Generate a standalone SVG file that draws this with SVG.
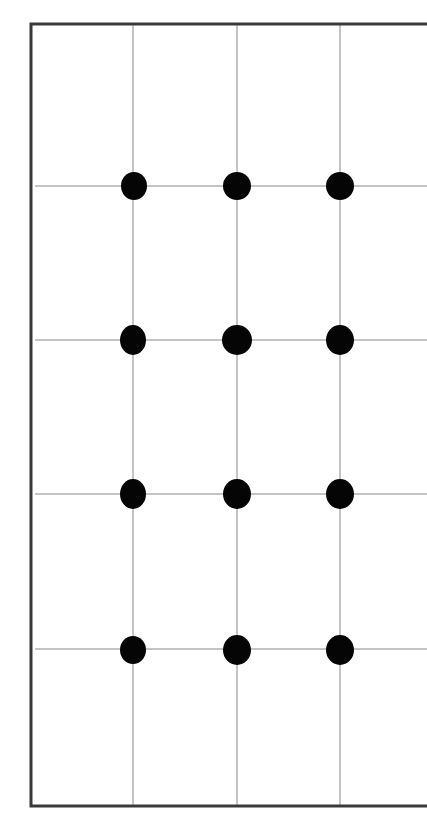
<svg xmlns="http://www.w3.org/2000/svg" width="427" height="813" viewBox="0 0 427 813">
<style>
.grid{stroke:#c4c4c4;stroke-width:2;fill:none}
.dot{fill:#050505}
.frame{stroke:#3a3a3a;stroke-width:3;fill:none}
</style>
<rect width="427" height="813" fill="#ffffff"/>
<g id="connectors">
<line class="grid" x1="133" y1="24" x2="133" y2="806"/>
<line class="grid" x1="237" y1="24" x2="237" y2="806"/>
<line class="grid" x1="340" y1="24" x2="340" y2="806"/>
<line class="grid" x1="35" y1="186" x2="427" y2="186"/>
<line class="grid" x1="35" y1="340" x2="427" y2="340"/>
<line class="grid" x1="35" y1="494" x2="427" y2="494"/>
<line class="grid" x1="35" y1="649" x2="427" y2="649"/>
</g>
<path class="frame" d="M428 24 H31 V806 H428"/>
<g id="n11"><ellipse class="dot" cx="134" cy="186" rx="13" ry="14"/></g>
<g id="n12"><ellipse class="dot" cx="237" cy="186" rx="14" ry="14"/></g>
<g id="n13"><ellipse class="dot" cx="340" cy="186" rx="14" ry="14"/></g>
<g id="n21"><ellipse class="dot" cx="133" cy="340" rx="13" ry="15"/></g>
<g id="n22"><ellipse class="dot" cx="237" cy="340" rx="15" ry="15"/></g>
<g id="n23"><ellipse class="dot" cx="340" cy="340" rx="14" ry="15"/></g>
<g id="n31"><ellipse class="dot" cx="133" cy="494" rx="13" ry="15"/></g>
<g id="n32"><ellipse class="dot" cx="237" cy="494" rx="14" ry="15"/></g>
<g id="n33"><ellipse class="dot" cx="340" cy="494" rx="14" ry="15"/></g>
<g id="n41"><ellipse class="dot" cx="133" cy="650" rx="13" ry="14"/></g>
<g id="n42"><ellipse class="dot" cx="237" cy="650" rx="14" ry="15"/></g>
<g id="n43"><ellipse class="dot" cx="340" cy="650" rx="14" ry="15"/></g>
</svg>
